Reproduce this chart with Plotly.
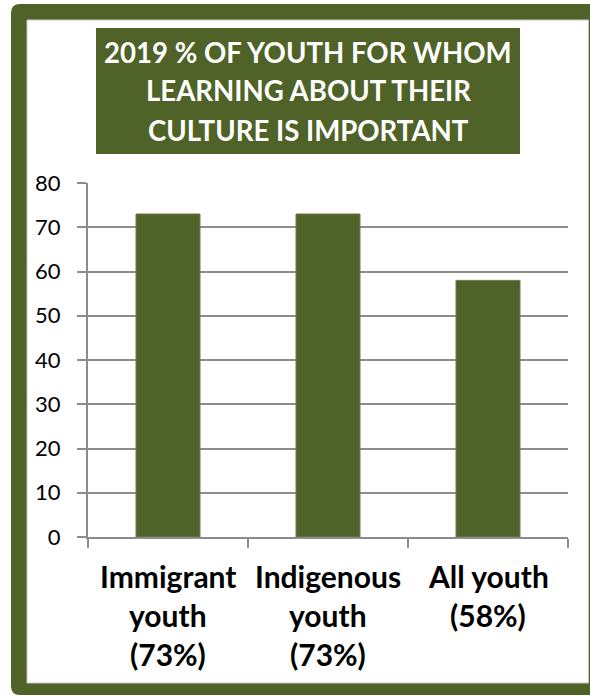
import plotly.graph_objects as go

# Data
categories = ["Immigrant youth (73%)", "Indigenous youth (73%)", "All youth (58%)"]
category_lines = [["Immigrant", "youth", "(73%)"], ["Indigenous", "youth", "(73%)"], ["All youth", "(58%)"]]
values = [73, 73, 58]
y_ticks = [0, 10, 20, 30, 40, 50, 60, 70, 80]
title_lines = ["2019 % OF YOUTH FOR WHOM", "LEARNING ABOUT THEIR", "CULTURE IS IMPORTANT"]

OLIVE = "#4F6228"
GRID = "#8C8C8C"
FONT = "Lato"

W, H = 590, 696
L, R, T, B = 88, 568, 183, 537  # plot area in pixels


def px(x):
    return (x - L) / (R - L)


def py(y):
    return (B - y) / (B - T)


def pt(x, y):
    return f"{px(x):.5f},{py(y):.5f}"


fig = go.Figure()
fig.add_trace(go.Bar(
    x=[0, 1, 2], y=values, width=0.4, customdata=categories,
    marker=dict(color=OLIVE, line=dict(color="#6E7D4E", width=1)),
    hovertemplate="%{customdata}: %{y}%<extra></extra>",
))

shapes = []
# Outer frame with rounded left corners
r = 9
frame_path = (
    f"M {pt(11 + r, 4)} L {pt(610, 4)} L {pt(610, 695)} L {pt(11 + r, 695)} "
    f"Q {pt(11, 695)} {pt(11, 695 - r)} L {pt(11, 4 + r)} Q {pt(11, 4)} {pt(11 + r, 4)} Z"
)
shapes.append(dict(type="path", xref="paper", yref="paper", path=frame_path,
                   fillcolor=OLIVE, line=dict(width=0), layer="below"))
# White panel
shapes.append(dict(type="rect", xref="paper", yref="paper",
                   x0=px(27), x1=px(588.5), y0=py(683), y1=py(20),
                   fillcolor="white", line=dict(color="#C8C8C8", width=1), layer="below"))
# Title box
shapes.append(dict(type="rect", xref="paper", yref="paper",
                   x0=px(96), x1=px(520), y0=py(154), y1=py(28),
                   fillcolor=OLIVE, line=dict(width=0), layer="below"))

annotations = []
title_centers = [52, 91, 130]
for line, yc in zip(title_lines, title_centers):
    annotations.append(dict(
        text=line, xref="paper", yref="paper", x=px(308), y=py(yc),
        xanchor="center", yanchor="middle", showarrow=False,
        font=dict(family=FONT, size=27.6, color="white", weight="bold"),
    ))
label_centers = [576, 615, 654]
for i, lines in enumerate(category_lines):
    for line, yc in zip(lines, label_centers):
        annotations.append(dict(
            text=line, xref="x", yref="paper", x=i, y=py(yc),
            xanchor="center", yanchor="middle", showarrow=False,
            font=dict(family=FONT, size=30, color="black", weight="bold"),
        ))

fig.update_layout(
    width=W, height=H,
    margin=dict(l=L, r=W - R, t=T, b=H - B, pad=0),
    paper_bgcolor="white", plot_bgcolor="rgba(0,0,0,0)",
    showlegend=False, shapes=shapes, annotations=annotations,
    bargap=0.6,
)
fig.update_xaxes(
    range=[-0.5, 2.5], tickvals=[-0.5, 0.5, 1.5, 2.5], showticklabels=False,
    ticks="outside", ticklen=9, tickwidth=2, tickcolor=GRID,
    showline=True, linecolor=GRID, linewidth=2, showgrid=False, zeroline=False,
    fixedrange=True,
)
fig.update_yaxes(
    range=[0, 80], tickvals=y_ticks, ticks="outside", ticklen=9, tickwidth=2,
    tickcolor=GRID, showline=True, linecolor=GRID, linewidth=2,
    showgrid=True, gridcolor=GRID, gridwidth=2, zeroline=False,
    tickfont=dict(family=FONT, size=22, color="black"), ticklabelstandoff=12,
    fixedrange=True,
)

fig.write_html("out.html", config={"displayModeBar": False})
